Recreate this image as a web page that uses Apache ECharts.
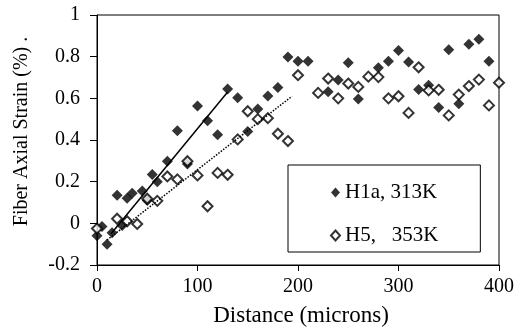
<!DOCTYPE html>
<html>
<head>
<meta charset="utf-8">
<script src="https://cdn.jsdelivr.net/npm/echarts@6/dist/echarts.min.js"></script>
<style>html,body{margin:0;padding:0;background:#fff}#c{width:517px;height:332px}</style>
</head>
<body>
<div id="c"></div>
<script>
// Data
const seriesNames = ['H1a, 313K', 'H5,\u00a0\u00a0\u00a0353K'];
const h1a = [[0,-0.06],[5,-0.015],[10,-0.1],[15,-0.045],[20,0.135],[25,-0.01],[30,0.12],[35,0.145],[45,0.155],[50,0.11],[55,0.235],[60,0.2],[70,0.298],[80,0.444],[90,0.285],[100,0.563],[110,0.493],[120,0.425],[130,0.645],[140,0.603],[150,0.441],[160,0.549],[170,0.611],[180,0.652],[190,0.798],[200,0.778],[210,0.778],[230,0.632],[240,0.688],[250,0.771],[260,0.597],[280,0.747],[290,0.778],[300,0.83],[310,0.774],[320,0.643],[330,0.663],[340,0.556],[350,0.833],[360,0.574],[370,0.86],[380,0.884],[390,0.778]];
const h5 = [[0,-0.025],[20,0.022],[30,0.01],[40,-0.003],[50,0.118],[60,0.108],[70,0.225],[80,0.211],[90,0.298],[100,0.23],[110,0.082],[120,0.242],[130,0.233],[140,0.403],[150,0.538],[160,0.5],[170,0.505],[180,0.43],[190,0.395],[200,0.711],[220,0.626],[230,0.695],[240,0.6],[250,0.671],[260,0.655],[270,0.704],[280,0.702],[290,0.6],[300,0.61],[310,0.53],[320,0.749],[330,0.638],[340,0.641],[350,0.518],[360,0.618],[370,0.659],[380,0.69],[390,0.566],[400,0.675]];
const trendH1a = [[14,-0.05],[130,0.63]];
const trendH5 = [[10,-0.08],[194,0.61]];
const xTicks = [0,100,200,300,400];
const yTicks = [-0.2,0,0.2,0.4,0.6,0.8,1];

const FONT = '"Liberation Serif", "Times New Roman", serif';
const chart = echarts.init(document.getElementById('c'), null, {renderer:'canvas'});
chart.setOption({
  animation: false,
  backgroundColor: '#fff',
  textStyle: {fontFamily: FONT, color: '#000'},
  grid: {left: 97, right: 18, top: 15, bottom: 66, show: true, borderColor: '#000', borderWidth: 1},
  xAxis: {
    type: 'value', min: xTicks[0], max: xTicks[xTicks.length-1], interval: 100,
    name: 'Distance (microns)', nameLocation: 'middle', nameGap: 39,
    nameTextStyle: {fontFamily: FONT, fontSize: 23, color: '#000', padding: [0,0,0,6]},
    axisLine: {show: true, onZero: false, lineStyle: {color: '#000', width: 1}},
    axisTick: {show: true, inside: false, length: 6, lineStyle: {color: '#000'}},
    axisLabel: {fontFamily: FONT, fontSize: 20, color: '#000', margin: 12},
    splitLine: {show: false}
  },
  yAxis: {
    type: 'value', min: yTicks[0], max: yTicks[yTicks.length-1], interval: 0.2,
    axisLine: {show: true, onZero: false, lineStyle: {color: '#000', width: 1}},
    axisTick: {show: true, inside: false, length: 7, lineStyle: {color: '#000'}},
    axisLabel: {fontFamily: FONT, fontSize: 20, color: '#000', margin: 17,
      formatter: v => String(Math.round(v*10)/10)},
    splitLine: {show: false}
  },
  legend: {
    orient: 'vertical', left: 288, top: 165,
    data: seriesNames,
    itemWidth: 9, itemHeight: 10, itemGap: 22,
    padding: [17, 42, 6, 42],
    borderColor: '#000', borderWidth: 1,
    textStyle: {fontFamily: FONT, fontSize: 21, color: '#000'}
  },
  graphic: [{
    type: 'text', x: 22, y: 131.5, rotation: Math.PI/2,
    style: {text: 'Fiber Axial Strain (%) .', font: '20px ' + FONT, fill: '#000',
            align: 'center', verticalAlign: 'middle'}
  }],
  series: [
    {name: seriesNames[0], type: 'scatter', data: h1a, symbol: 'diamond', symbolSize: 11,
     itemStyle: {color: '#000'}, z: 3},
    {name: seriesNames[1], type: 'scatter', data: h5, symbol: 'diamond', symbolSize: 10,
     itemStyle: {color: '#fff', borderColor: '#000', borderWidth: 2}, z: 4},
    {name: 'trend1', type: 'line', data: trendH1a, symbol: 'none',
     lineStyle: {color: '#000', width: 1.5, type: 'solid'}, z: 5},
    {name: 'trend2', type: 'line', data: trendH5, symbol: 'none',
     lineStyle: {color: '#000', width: 1.5, type: [1.5, 1.5]}, z: 5}
  ]
});
</script>
</body>
</html>
